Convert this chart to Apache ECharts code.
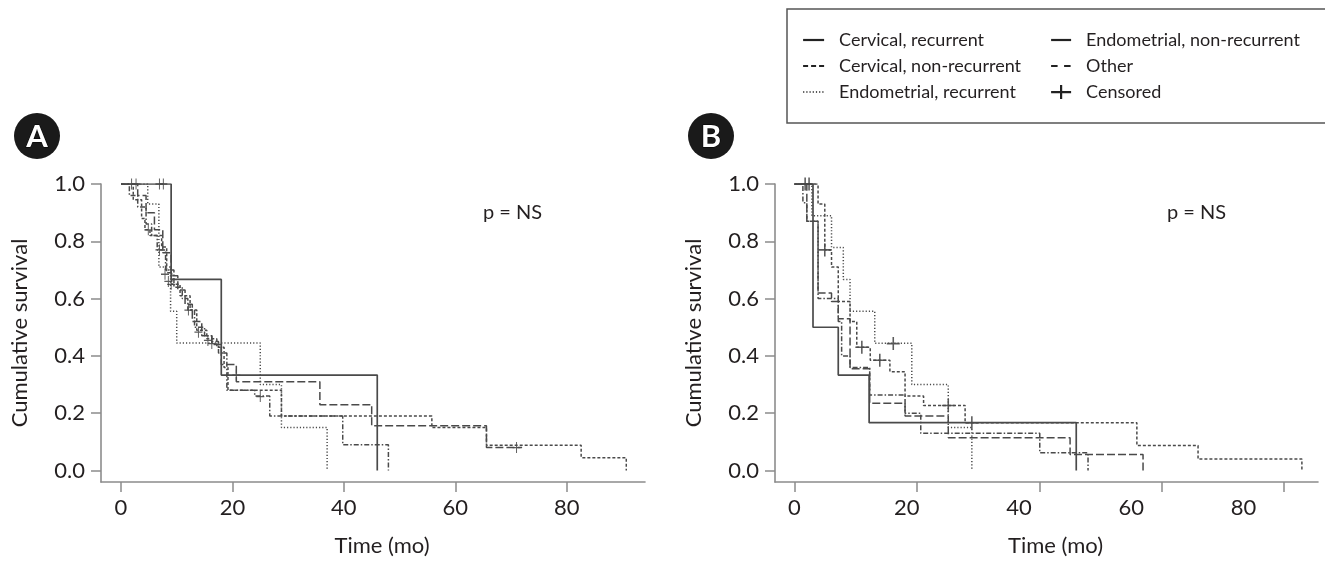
<!DOCTYPE html>
<html>
<head>
<meta charset="utf-8">
<script src="https://cdn.jsdelivr.net/npm/echarts@6/dist/echarts.min.js"></script>
<style>
  html, body { margin: 0; padding: 0; background: #fff; }
  #chart { width: 1325px; height: 562px; }
</style>
</head>
<body>
<div id="chart"></div>
<script>
// tick labels
const xTicks = [0, 20, 40, 60, 80];
const yTicks = [0, 0.2, 0.4, 0.6, 0.8, 1.0];

// Panel A - time (mo) / cumulative survival, step points
const aCervRecT = [0, 9, 18, 46];
const aCervRecS = [1, 0.667, 0.333, 0];
const aCervNonT = [0, 2.2, 3.7, 4.3, 5.2, 7.3, 8.2, 9.1, 10.6, 12.4, 13.6, 15.4, 17.2, 18.5, 19.2, 28.8, 55.8, 65.6, 82.6, 90.7];
const aCervNonS = [1, 0.945, 0.88, 0.84, 0.82, 0.78, 0.69, 0.65, 0.61, 0.56, 0.49, 0.46, 0.43, 0.36, 0.28, 0.19, 0.15, 0.088, 0.045, 0];
const aEndoRecT = [0, 4.8, 6.8, 8.9, 10, 25, 28.8, 37];
const aEndoRecS = [1, 0.93, 0.71, 0.556, 0.445, 0.30, 0.15, 0];
const aEndoNonT = [0, 3, 4.5, 6, 7.5, 9, 10.2, 11.5, 12.8, 14.5, 16.3, 18, 20.7, 35.7, 45, 65.6, 72];
const aEndoNonS = [1, 0.96, 0.90, 0.84, 0.76, 0.68, 0.63, 0.58, 0.52, 0.47, 0.44, 0.37, 0.31, 0.23, 0.156, 0.08, 0.08];
const aOtherT = [0, 1.5, 3, 4.5, 5.5, 6.5, 8, 9.5, 11, 12, 13.2, 15, 16.3, 17.5, 19, 24, 26.7, 39.8, 48];
const aOtherS = [1, 0.96, 0.92, 0.86, 0.82, 0.77, 0.70, 0.64, 0.60, 0.56, 0.50, 0.47, 0.45, 0.41, 0.28, 0.26, 0.19, 0.09, 0];
const aCensorT = [1.9, 2.7, 6.9, 7.6, 4.9, 6.9, 7.9, 8.5, 9.0, 12.1, 13.9, 15.6, 16.3, 20.7, 25.0, 71.0];
const aCensorS = [1, 1, 1, 1, 0.84, 0.77, 0.685, 0.66, 0.65, 0.56, 0.483, 0.454, 0.443, 0.333, 0.258, 0.08];

// Panel B
const bCervRecT = [0, 3.3, 7.8, 13.3, 50.2];
const bCervRecS = [1, 0.5, 0.333, 0.167, 0];
const bCervNonT = [0, 4.2, 5.4, 6.6, 7.8, 9.9, 11.1, 13.5, 17.0, 19.7, 23.0, 30.4, 61.0, 71.9, 90.4];
const bCervNonS = [1, 0.93, 0.77, 0.71, 0.59, 0.52, 0.43, 0.385, 0.345, 0.26, 0.227, 0.167, 0.087, 0.04, 0];
const bEndoRecT = [0, 3.1, 6.6, 8.7, 9.9, 14.3, 20.9, 27.4, 31.6];
const bEndoRecS = [1, 0.889, 0.778, 0.667, 0.556, 0.444, 0.30, 0.15, 0];
const bEndoNonT = [0, 2.2, 4.2, 6.6, 7.8, 9.9, 13.4, 19.7, 27.4, 49.1, 62.1];
const bEndoNonS = [1, 0.87, 0.62, 0.59, 0.53, 0.355, 0.235, 0.19, 0.114, 0.056, 0];
const bOtherT = [0, 1.5, 2.2, 4.2, 7.8, 8.4, 9.9, 13.4, 19.7, 22.5, 43.7, 52.3];
const bOtherS = [1, 0.935, 0.87, 0.60, 0.52, 0.40, 0.36, 0.264, 0.20, 0.13, 0.062, 0];
const bCensorT = [1.9, 2.6, 5.4, 12.0, 15.2, 17.6, 27.4, 31.6];
const bCensorS = [1, 1, 0.77, 0.43, 0.385, 0.443, 0.227, 0.167];

const font = 'Lato';
const textColor = '#231f20';
const axisGray = '#8c8c8c';
const curveColor = '#4a4a4a';
const plusPath = 'path://M0,4.4H10V5.6H0Z M4.4,0H5.6V10H4.4Z';
const legendPlus = 'path://M0,6H20V8.2H0Z M8.9,0H11.1V14H8.9Z';

const chart = echarts.init(document.getElementById('chart'));

function pairs(t, s) {
    return t.map((v, i) => [v, s[i]]);
}

function km(name, t, s, xi, yi, dash) {
    return {
        type: 'line', name: name, step: 'end', symbol: 'none',
        xAxisIndex: xi, yAxisIndex: yi,
        data: pairs(t, s),
        lineStyle: { color: curveColor, width: name === 'Cervical, recurrent' ? 1.7 : 1.5, type: dash },
        silent: true
    };
}

function censor(t, s, xi, yi, size) {
    return {
        type: 'scatter', name: 'Censored', xAxisIndex: xi, yAxisIndex: yi,
        symbol: plusPath, symbolSize: size,
        itemStyle: { color: '#333' },
        data: pairs(t, s), silent: true
    };
}

const tickStyle = { color: axisGray, width: 1.5 };
const labelStyle = { fontFamily: font, fontSize: 22, color: textColor };

function xAxis(grid, min, max, withTicks, withLabels) {
    return {
        type: 'value', gridIndex: grid, min: min, max: max, position: 'bottom',
        axisLine: { show: withLabels, onZero: false, lineStyle: { color: axisGray, width: 1.6 } },
        axisTick: { show: withTicks, customValues: xTicks, length: 10, lineStyle: tickStyle },
        axisLabel: Object.assign({ show: withLabels, customValues: xTicks, margin: 15 }, labelStyle),
        splitLine: { show: false },
        name: withLabels ? 'Time (mo)' : '',
        nameLocation: 'middle', nameGap: 53,
        nameTextStyle: Object.assign({ padding: [0, 0, 0, 18] }, labelStyle)
    };
}

function yAxis(grid) {
    return {
        type: 'value', gridIndex: grid, min: -0.04, max: 1,
        axisLine: { show: true, onZero: false, lineStyle: { color: axisGray, width: 1.6 } },
        axisTick: { customValues: yTicks, length: 10, lineStyle: tickStyle },
        axisLabel: Object.assign({ customValues: yTicks, margin: 16, formatter: v => v.toFixed(1) }, labelStyle),
        splitLine: { show: false },
        name: 'Cumulative survival', nameLocation: 'middle', nameGap: 70,
        nameTextStyle: labelStyle
    };
}

const legendText = { fontFamily: font, fontSize: 18, color: textColor, padding: [0, 0, 0, 10] };

function badge(cx, cy, letter) {
    return [
        { type: 'circle', shape: { cx: cx, cy: cy, r: 23 }, style: { fill: '#1a1a1a' } },
        { type: 'text', x: cx, y: cy + 1, style: { text: letter, font: 'bold 31px Lato', fill: '#fff', stroke: '#000', lineWidth: 1, align: 'center', verticalAlign: 'middle' } }
    ];
}

const option = {
    animation: false,
    grid: [
        { left: 101, top: 184, width: 544, height: 301 },
        { left: 775, top: 184, width: 543, height: 301 }
    ],
    xAxis: [
        xAxis(0, -3.59, 94.06, true, true),
        xAxis(1, -3.47, 93.27, false, true),
        xAxis(1, -3.27, 85.6, true, false)
    ],
    yAxis: [yAxis(0), yAxis(1)],
    legend: [
        {
            left: 802, top: 31, padding: 0, orient: 'vertical', itemWidth: 21, itemHeight: 14, itemGap: 8,
            selectedMode: false, textStyle: legendText,
            itemStyle: { opacity: 0 }, lineStyle: { width: 2.2, color: '#222' },
            data: [
                { name: 'Cervical, recurrent', lineStyle: { type: 'solid' } },
                { name: 'Cervical, non-recurrent', lineStyle: { type: [5, 3] } },
                { name: 'Endometrial, recurrent', lineStyle: { type: [1.2, 2], width: 1.6 } }
            ]
        },
        {
            left: 1050, top: 31, padding: 0, orient: 'vertical', itemWidth: 20, itemHeight: 14, itemGap: 8,
            selectedMode: false, textStyle: legendText,
            itemStyle: { opacity: 0 }, lineStyle: { width: 2.2, color: '#222' },
            data: [
                { name: 'Endometrial, non-recurrent', lineStyle: { type: 'solid' } },
                { name: 'Other', lineStyle: { type: [6.5, 6.5] } },
                { name: 'Censored', icon: legendPlus, itemStyle: { opacity: 1, color: '#222' } }
            ]
        }
    ],
    graphic: [
        { type: 'rect', shape: { x: 787, y: 9, width: 560, height: 114 }, style: { fill: 'none', stroke: '#555', lineWidth: 1.5 } },
        ...badge(37, 136, 'A'),
        ...badge(711, 136, 'B'),
        { type: 'text', x: 483, y: 213, style: { text: 'p = NS', font: '20px Lato', fill: textColor, verticalAlign: 'middle' } },
        { type: 'text', x: 1167, y: 213, style: { text: 'p = NS', font: '20px Lato', fill: textColor, verticalAlign: 'middle' } }
    ],
    series: [
        km('Cervical, recurrent', aCervRecT, aCervRecS, 0, 0, 'solid'),
        km('Cervical, non-recurrent', aCervNonT, aCervNonS, 0, 0, [3, 2]),
        km('Endometrial, recurrent', aEndoRecT, aEndoRecS, 0, 0, [1.2, 2]),
        km('Endometrial, non-recurrent', aEndoNonT, aEndoNonS, 0, 0, [8, 3]),
        km('Other', aOtherT, aOtherS, 0, 0, [5, 2, 1.5, 2]),
        censor(aCensorT, aCensorS, 0, 0, [8, 11]),
        km('Cervical, recurrent', bCervRecT, bCervRecS, 1, 1, 'solid'),
        km('Cervical, non-recurrent', bCervNonT, bCervNonS, 1, 1, [3, 2]),
        km('Endometrial, recurrent', bEndoRecT, bEndoRecS, 1, 1, [1.2, 2]),
        km('Endometrial, non-recurrent', bEndoNonT, bEndoNonS, 1, 1, [8, 3]),
        km('Other', bOtherT, bOtherS, 1, 1, [5, 2, 1.5, 2]),
        censor(bCensorT, bCensorS, 1, 1, [13, 13])
    ]
};

chart.setOption(option);
</script>
</body>
</html>
